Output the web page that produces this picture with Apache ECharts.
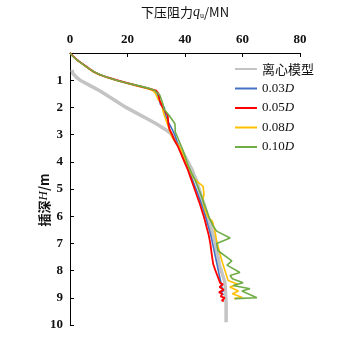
<!DOCTYPE html>
<html>
<head>
<meta charset="utf-8">
<script src="https://cdn.jsdelivr.net/npm/echarts@6/dist/echarts.min.js"></script>
<style>html,body{margin:0;padding:0;background:#fff;}#c{width:350px;height:339px;}</style>
</head>
<body>
<div id="c"></div>
<script>
const seriesNames = ['离心模型', '0.03D', '0.05D', '0.08D', '0.10D'];
const xTicks = [0, 20, 40, 60, 80];
const yTicks = [1, 2, 3, 4, 5, 6, 7, 8, 9, 10];

// [load (MN), depth (m)]
const modelData = [[0.7,0.62],[1,0.75],[2.3,0.9],[3.5,1.0],[7,1.2],[10.5,1.4],[13.5,1.6],[16.5,1.8],[19.5,2.0],[23,2.2],[26.5,2.4],[30,2.6],[33,2.8],[35,2.95],[36,3.1],[37,3.3],[38.5,3.5],[39.5,3.7],[40.5,3.9],[41.5,4.1],[42.5,4.3],[43.2,4.5],[44,4.7],[44.6,4.9],[45.2,5.1],[45.8,5.3],[46.4,5.5],[47,5.7],[47.5,5.9],[48.1,6.1],[48.7,6.3],[49.3,6.5],[49.8,6.7],[50.4,6.9],[50.9,7.2],[51.5,7.5],[52,7.8],[52.6,8.0],[53.2,8.2],[53.8,8.4],[54,8.6],[54.1,8.8],[54.2,9.0],[54.3,9.2],[54.3,9.4],[54.3,9.6],[54.3,9.8],[54.3,9.9]];

const d003 = [[0,0],[0.8,0.1],[1.8,0.2],[3,0.3],[4.3,0.4],[5.6,0.5],[6.9,0.6],[8.3,0.7],[10.3,0.8],[13,0.9],[16,1.0],[19.5,1.1],[23.2,1.2],[27,1.3],[29.2,1.38],[30.3,1.5],[31,1.7],[31.5,1.9],[32.8,2.0],[33,2.2],[33.6,2.4],[34.5,2.6],[35.5,2.8],[36.4,3.0],[37.4,3.3],[38.5,3.6],[39.8,3.9],[41,4.2],[42,4.5],[43.1,4.8],[44.2,5.1],[45.2,5.4],[46.2,5.7],[47.1,6.0],[47.9,6.3],[48.7,6.6],[49.4,6.9],[50,7.2],[50.6,7.5],[51.2,7.8],[51.8,8.1],[52.4,8.4],[52.8,8.6],[53.3,8.75],[52.6,8.8],[53.4,8.9]];

const d005 = [[0,0],[0.9,0.1],[1.9,0.2],[3.1,0.3],[4.4,0.4],[5.7,0.5],[7,0.6],[8.4,0.7],[10.5,0.8],[13.2,0.9],[16.3,1.0],[19.8,1.1],[23.5,1.2],[27.3,1.3],[30,1.38],[30.8,1.5],[31.2,1.75],[32,1.95],[32.8,2.1],[34,2.3],[34.2,2.6],[34.6,2.8],[35.5,3.0],[36.3,3.2],[37.6,3.45],[38.6,3.7],[39.8,4.0],[41,4.3],[42,4.6],[43,4.9],[44,5.2],[45,5.5],[45.9,5.8],[46.8,6.1],[47.5,6.4],[48.2,6.67],[48.8,7.0],[49.3,7.4],[49.8,7.76],[50.6,8.0],[51.5,8.25],[52.2,8.45],[53.2,8.5],[52,8.6],[53.5,8.7],[51.8,8.8],[53,8.85],[52.4,8.95],[53.8,9.0],[52.8,9.1],[53.5,9.12]];

const d008 = [[0,0],[0.8,0.1],[1.7,0.2],[2.9,0.3],[4.2,0.4],[5.5,0.5],[6.8,0.6],[8.2,0.7],[10.2,0.8],[12.9,0.9],[16,1.0],[19.5,1.1],[23,1.2],[26.8,1.3],[29,1.4],[29.8,1.5],[30.6,1.7],[31.5,1.8],[32,1.93],[32.5,2.2],[33.7,2.55],[34.5,2.8],[35.5,3.1],[37,3.3],[38.3,3.5],[39.5,3.8],[40.4,4.0],[41.2,4.2],[42,4.4],[43,4.6],[44.5,4.75],[46.3,4.9],[46.6,5.2],[46.2,5.4],[46.8,5.7],[47.8,6.0],[49.6,6.2],[50.4,6.55],[51,6.9],[52.2,7.4],[53,7.7],[53.9,8.0],[55,8.36],[58.4,8.5],[55.6,8.6],[58.6,8.75],[56.5,8.85],[59,8.95],[60,9.0],[57,9.03]];

const d010 = [[0,0],[0.8,0.1],[1.8,0.2],[3,0.3],[4.3,0.4],[5.6,0.5],[7,0.6],[8.5,0.7],[10.6,0.8],[13.2,0.9],[16.2,1.0],[19.8,1.1],[23.8,1.2],[27.5,1.3],[29.5,1.38],[31.3,1.56],[32.4,1.9],[32.7,2.07],[34.5,2.3],[36.5,2.6],[36.6,2.9],[37.8,3.2],[39,3.5],[40,3.8],[41,4.1],[42,4.35],[43.2,4.6],[44.4,4.9],[45.5,5.2],[46.5,5.5],[47.6,5.8],[48.6,6.1],[50,6.4],[51,6.55],[55.7,6.8],[51,7.0],[51.5,7.27],[56.3,7.64],[54.6,7.8],[59.1,8.07],[55.7,8.18],[56.5,8.3],[60.2,8.45],[56.7,8.55],[62.6,8.67],[59.8,8.75],[65,9.0],[57.4,9.03]];

const colors = ['#c4c4c4', '#4472c4', '#ff0000', '#ffc000', '#70ad47'];
const serif = '"Liberation Serif", "Noto Sans CJK SC", serif';

const chart = echarts.init(document.getElementById('c'), null, {renderer: 'canvas'});

function mk(name, data, color, width, z) {
  return {
    name: name, type: 'line', data: data, showSymbol: false, symbol: 'none',
    lineStyle: {color: color, width: width}, itemStyle: {color: color},
    z: z, animation: false
  };
}

chart.setOption({
  animation: false,
  grid: {left: 70, top: 50, width: 230, height: 275},
  legend: {
    orient: 'vertical', left: 230, top: 57, itemWidth: 22, itemHeight: 2, itemGap: 5.5,
    icon: 'rect',
    data: seriesNames,
    formatter: function (n) {
      if (n.slice(-1) === 'D') return '{n|' + n.slice(0, -1) + '}{i|D}';
      return '{c|' + n + '}';
    },
    textStyle: {
      fontFamily: serif, fontSize: 13, color: '#111', lineHeight: 14,
      rich: {
        n: {fontFamily: serif, fontSize: 13, color: '#111'},
        i: {fontFamily: serif, fontSize: 13, fontStyle: 'italic', color: '#111'},
        c: {fontFamily: '"Noto Sans CJK SC", serif', fontSize: 13, color: '#111'}
      }
    }
  },
  xAxis: {
    type: 'value', position: 'top', min: 0, max: 80, interval: 20,
    name: '{a|下压阻力}{i|q}{s|u}{a|/MN}',
    nameLocation: 'middle', nameGap: 33,
    nameTextStyle: {
      rich: {
        a: {fontFamily: '"Noto Sans CJK SC", serif', fontSize: 13, color: '#111'},
        i: {fontFamily: serif, fontSize: 14, fontStyle: 'italic', color: '#111'},
        s: {fontFamily: serif, fontSize: 8, color: '#111', padding: [8, 0, 0, 0]}
      }
    },
    axisLine: {show: true, lineStyle: {color: '#000', width: 1}},
    axisTick: {show: true, inside: true, length: 4, lineStyle: {color: '#000'}},
    axisLabel: {
      margin: 7, fontFamily: serif, fontSize: 13, fontWeight: 'bold', color: '#111',
      formatter: function (v) { return xTicks.indexOf(v) >= 0 ? String(v) : ''; }
    },
    splitLine: {show: false}
  },
  yAxis: {
    type: 'value', inverse: true, min: 0, max: 10, interval: 1,
    axisLine: {show: true, onZero: false, lineStyle: {color: '#000', width: 1}},
    axisTick: {show: true, inside: true, length: 4, lineStyle: {color: '#000'}},
    axisLabel: {
      margin: 7, fontFamily: serif, fontSize: 13, fontWeight: 'bold', color: '#111',
      formatter: function (v) { return yTicks.indexOf(v) >= 0 ? String(v) : ''; }
    },
    splitLine: {show: false}
  },
  graphic: [{
    type: 'text', x: 44, y: 200, rotation: Math.PI / 2,
    style: {
      text: '{a|插深}{i|H}{a|/m}',
      align: 'center', verticalAlign: 'middle',
      rich: {
        a: {fontFamily: '"Noto Sans CJK SC", serif', fontSize: 13, fill: '#111', fontWeight: 'bold'},
        i: {fontFamily: serif, fontSize: 13, fontStyle: 'italic', fill: '#111'}
      }
    }
  }],
  series: [
    mk(seriesNames[0], modelData, colors[0], 3.5, 1),
    mk(seriesNames[1], d003, colors[1], 1.6, 2),
    mk(seriesNames[3], d008, colors[3], 1.6, 3),
    mk(seriesNames[2], d005, colors[2], 1.8, 4),
    mk(seriesNames[4], d010, colors[4], 1.6, 5)
  ]
});
</script>
</body>
</html>
